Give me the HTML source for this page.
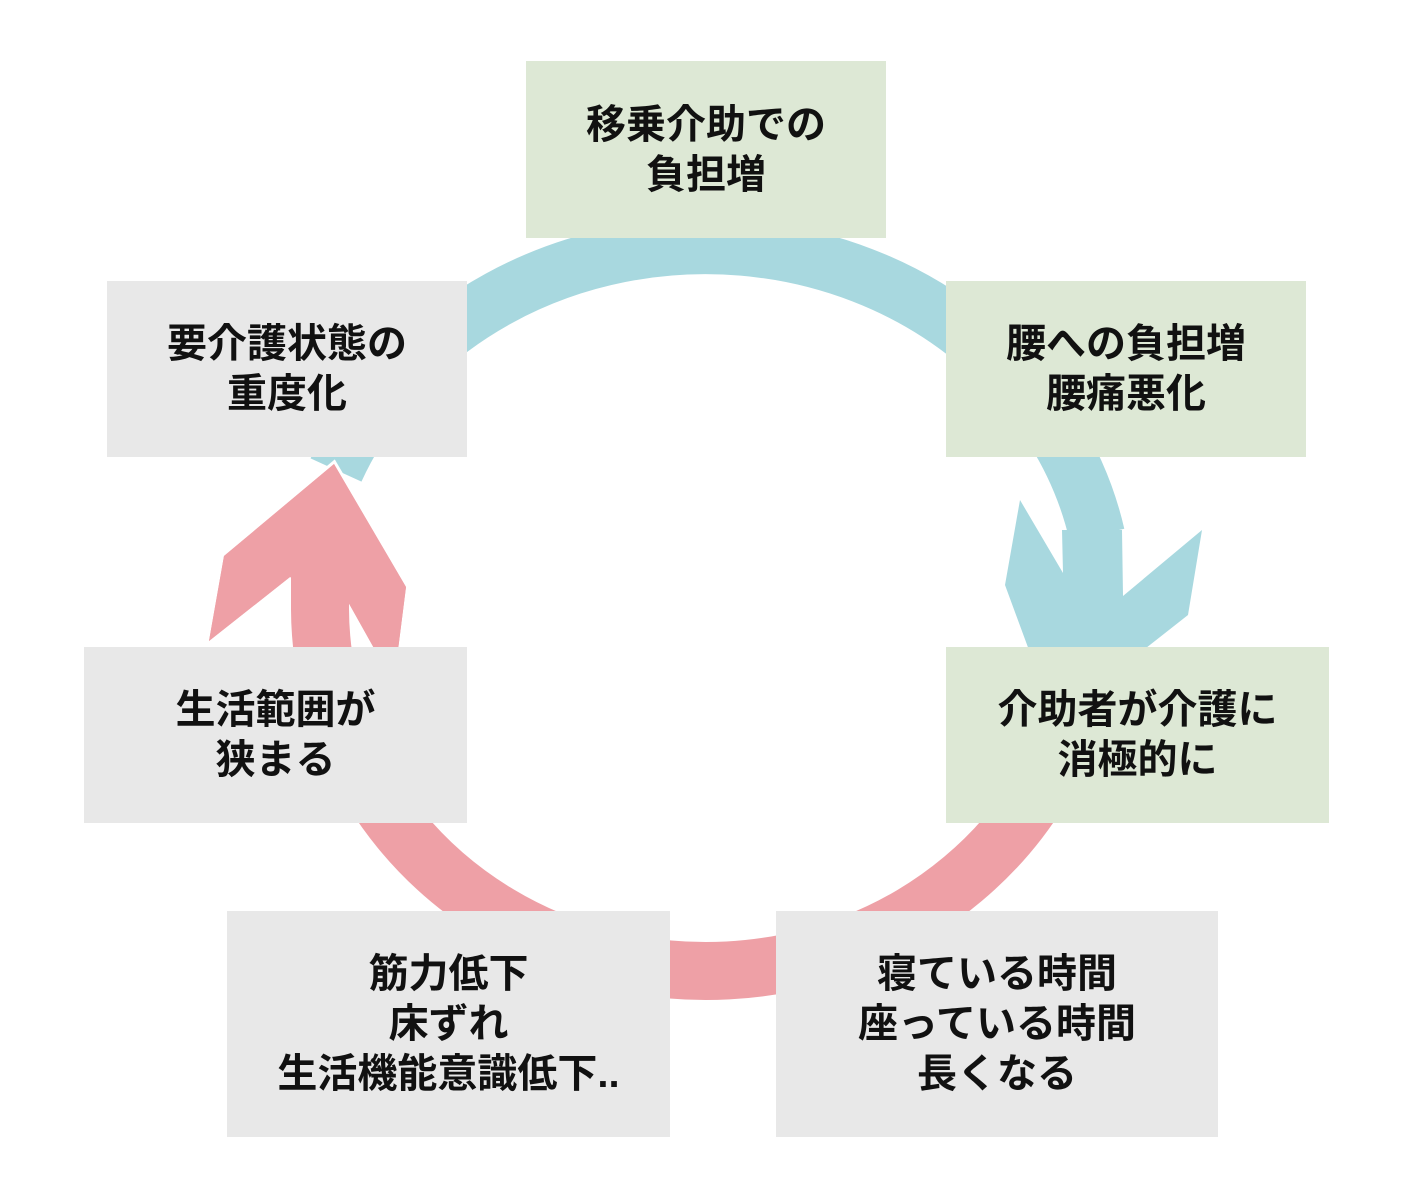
<!DOCTYPE html>
<html><head><meta charset="utf-8"><style>
html,body{margin:0;padding:0;background:#fff;}
body{width:1420px;height:1200px;position:relative;overflow:hidden;font-family:"Liberation Sans","Noto Sans CJK JP",sans-serif;}
.b{position:absolute;display:flex;align-items:center;justify-content:center;text-align:center;font-weight:bold;font-size:40px;line-height:50px;color:#111;}
.g{background:#dde8d5;}
.y{background:#e8e8e8;}
svg{position:absolute;left:0;top:0;}
</style></head><body>
<svg width="1420" height="1200">
<path d="M 336,470 A 400 363 0 0 1 1097,535" fill="none" stroke="#a8d8df" stroke-width="56"/>
<polygon points="1005,585 1020,500 1063,573 1062,530 1122,530 1123,596 1202,530 1188,615 1080,700 1040,680" fill="#a8d8df"/>
<polygon points="334,464 406,587 398,650 375,650 347,600 290,577 209,641 224,556" fill="#eea0a6" stroke="#fff" stroke-width="6" stroke-linejoin="miter" paint-order="stroke"/>
<polygon points="334,464 406,587 398,650 375,650 347,600 290,577 209,641 224,556" fill="#eea0a6"/>
<path d="M 1040,790 A 386 363 0 0 1 320,609 L 320,570" fill="none" stroke="#eea0a6" stroke-width="58"/>
</svg>
<div class="b g" style="left:526px;top:61px;width:360px;height:177px;">移乗介助での<br>負担増</div>
<div class="b g" style="left:946px;top:281px;width:360px;height:176px;">腰への負担増<br>腰痛悪化</div>
<div class="b y" style="left:107px;top:281px;width:360px;height:176px;">要介護状態の<br>重度化</div>
<div class="b g" style="left:946px;top:647px;width:383px;height:176px;">介助者が介護に<br>消極的に</div>
<div class="b y" style="left:84px;top:647px;width:383px;height:176px;">生活範囲が<br>狭まる</div>
<div class="b y" style="left:227px;top:911px;width:443px;height:226px;">筋力低下<br>床ずれ<br>生活機能意識低下..</div>
<div class="b y" style="left:776px;top:911px;width:442px;height:226px;">寝ている時間<br>座っている時間<br>長くなる</div>
</body></html>
